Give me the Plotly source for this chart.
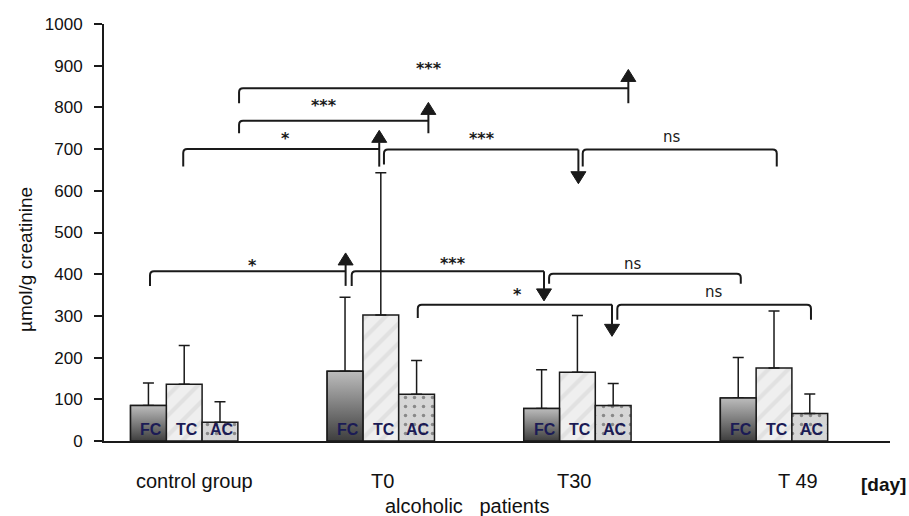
import plotly.graph_objects as go

# ---------------- data ----------------
groups = ["control group", "T0", "T30", "T 49"]
fc_mean = [85, 167, 78, 103]
fc_err = [54, 178, 93, 97]
tc_mean = [136, 302, 165, 175]
tc_err = [93, 341, 136, 137]
ac_mean = [45, 112, 85, 66]
ac_err = [49, 81, 53, 47]
bar_names = ["FC", "TC", "AC"]

# significance brackets: (x_left, x_right, level, drop, right_end, head_y, label, label_x, label_y)
brackets = [
    (-0.174, 0.821, 407, 372, "up", 451, "*", 0.345, 430),
    (0.852, 1.830, 407, 372, "down", 336, "***", 1.367, 435),
    (1.856, 2.831, 401, 377, "plain", None, "ns", 2.283, 424),
    (1.188, 2.176, 327, 295, "down", 251, "*", 1.693, 361),
    (2.203, 3.188, 327, 291, "plain", None, "ns", 2.695, 357),
    (-0.005, 0.992, 700, 658, "up", 745, "*", 0.513, 735),
    (1.016, 2.005, 699, 663, "down", 617, "***", 1.516, 736),
    (2.027, 3.014, 699, 658, "plain", None, "ns", 2.48, 730),
    (0.279, 1.242, 768, 738, "up", 812, "***", 0.711, 813),
    (0.279, 2.259, 846, 810, "up", 891, "***", 1.245, 903),
]

# category label positions (offset from group index)
cat_label_x = [0.05, 1.011, 1.983, 3.122]

# ---------------- geometry / style ----------------
xs = list(range(len(groups)))
group_width = 0.546
bw = group_width / 3
X_RANGE = [-0.408, 3.59]
Y_RANGE = [0, 1000]
PX_PER_X = 786 / (X_RANGE[1] - X_RANGE[0])
PX_PER_Y = 417 / (Y_RANGE[1] - Y_RANGE[0])

INK = "#1a1a1a"
LABEL_COL = "#1b1b55"
FONT = "Liberation Sans, Arial, sans-serif"

fig = go.Figure()

err_style = dict(type="data", symmetric=False, color=INK, thickness=1.5, width=5.5)
outline = dict(color=INK, width=1.5)

fig.add_trace(go.Bar(
    x=xs, y=fc_mean, name="FC",
    marker=dict(color="#8a8a8a", line=outline),
    error_y=dict(array=fc_err, arrayminus=[0] * 4, **err_style),
))
fig.add_trace(go.Bar(
    x=xs, y=tc_mean, name="TC",
    marker=dict(color="#ececec", line=outline,
                pattern=dict(shape="/", fgcolor="#d4d4d4", bgcolor="#efefef",
                             size=14, solidity=0.3)),
    error_y=dict(array=tc_err, arrayminus=[0] * 4, **err_style),
))
fig.add_trace(go.Bar(
    x=xs, y=ac_mean, name="AC",
    marker=dict(color="#d6d6d6", line=outline,
                pattern=dict(shape=".", fgcolor="#3a3a3a", bgcolor="#d6d6d6",
                             size=9, solidity=0.12)),
    error_y=dict(array=ac_err, arrayminus=[0] * 4, **err_style),
))

# gradient overlay for FC bars (dark bottom -> light top)
for i, v in zip(xs, fc_mean):
    x0 = i - 1.5 * bw
    x1 = i - 0.5 * bw
    fig.add_trace(go.Scatter(
        x=[x0, x1, x1, x0, x0], y=[0, 0, v, v, 0],
        mode="lines", fill="toself",
        line=dict(color=INK, width=1.5),
        fillgradient=dict(type="vertical", start=0, stop=v,
                          colorscale=[[0, "#3e3e3e"], [1, "#bcbcbc"]]),
        hoverinfo="skip", showlegend=False,
    ))

# bar labels inside bars
annotations = []
for gi in xs:
    for bi, name in enumerate(bar_names):
        right_edge = gi + (bi - 1) * bw + bw / 2
        annotations.append(dict(
            x=right_edge, y=0, xref="x", yref="y", text=name, showarrow=False,
            xanchor="right", yanchor="bottom", xshift=-2, yshift=1,
            font=dict(family=FONT, size=16, color=LABEL_COL, weight="bold"),
        ))

# brackets
shapes = []
rx = 4 / PX_PER_X
ry = 4 / PX_PER_Y
hw = 7.5 / PX_PER_X
hh = 12 / PX_PER_Y
line_style = dict(color=INK, width=2)
for (xl, xr, lev, drop, kind, head, lab, lx, ly) in brackets:
    path = f"M {xl},{drop} L {xl},{lev - ry} Q {xl},{lev} {xl + rx},{lev} "
    if kind == "plain":
        path += f"L {xr - rx},{lev} Q {xr},{lev} {xr},{lev - ry} L {xr},{drop}"
    else:
        path += f"L {xr},{lev}"
    shapes.append(dict(type="path", path=path, xref="x", yref="y", line=line_style))
    if kind == "up":
        shapes.append(dict(type="line", x0=xr, x1=xr, y0=drop, y1=head - hh,
                           xref="x", yref="y", line=line_style))
        shapes.append(dict(type="path", xref="x", yref="y",
                           path=f"M {xr - hw},{head - hh} L {xr + hw},{head - hh} L {xr},{head} Z",
                           fillcolor=INK, line=dict(color=INK, width=1)))
    elif kind == "down":
        shapes.append(dict(type="line", x0=xr, x1=xr, y0=lev, y1=head + hh,
                           xref="x", yref="y", line=line_style))
        shapes.append(dict(type="path", xref="x", yref="y",
                           path=f"M {xr - hw},{head + hh} L {xr + hw},{head + hh} L {xr},{head} Z",
                           fillcolor=INK, line=dict(color=INK, width=1)))
    if lab == "ns":
        annotations.append(dict(x=lx, y=ly, xref="x", yref="y", text=lab, showarrow=False,
                                xanchor="center", yanchor="middle",
                                font=dict(family="DejaVu Sans", size=15, color=INK)))
    else:
        annotations.append(dict(x=lx, y=ly, xref="x", yref="y", text=lab, showarrow=False,
                                xanchor="center", yanchor="middle", yshift=-4,
                                font=dict(family="DejaVu Sans", size=16, color=INK, weight="bold")))

# category labels
for cx, name in zip(cat_label_x, groups):
    annotations.append(dict(x=cx, y=-0.097, xref="x", yref="paper", text=name,
                            showarrow=False, xanchor="center", yanchor="middle",
                            font=dict(family=FONT, size=20, color="#111")))
annotations.append(dict(x=(467 - 104) / 786, y=-0.157, xref="paper", yref="paper",
                        text="alcoholic\u00a0\u00a0\u00a0patients", showarrow=False,
                        xanchor="center", yanchor="middle",
                        font=dict(family=FONT, size=20, color="#111")))
annotations.append(dict(x=(883 - 104) / 786, y=-0.105, xref="paper", yref="paper",
                        text="[day]", showarrow=False, xanchor="center", yanchor="middle",
                        font=dict(family=FONT, size=19, color="#111", weight="bold")))
annotations.append(dict(x=(25 - 104) / 786, y=0.434, xref="paper", yref="paper",
                        text="µmol/g creatinine", showarrow=False, textangle=-90,
                        xanchor="center", yanchor="middle",
                        font=dict(family=FONT, size=19, color="#111")))

fig.update_layout(
    width=909, height=516,
    margin=dict(l=104, r=19, t=24, b=75),
    paper_bgcolor="white", plot_bgcolor="white",
    barmode="group", bargap=1 - group_width, bargroupgap=0,
    showlegend=False,
    shapes=shapes, annotations=annotations,
    xaxis=dict(range=X_RANGE, showline=True, linecolor=INK, linewidth=2,
               showticklabels=False, ticks="", showgrid=False, zeroline=False,
               fixedrange=True),
    yaxis=dict(range=Y_RANGE, dtick=100, showline=True, linecolor=INK, linewidth=2,
               ticks="outside", ticklen=8, tickwidth=1.5, tickcolor=INK,
               ticklabelstandoff=8,
               tickfont=dict(family=FONT, size=17, color="#111"),
               showgrid=False, zeroline=False, fixedrange=True),
)

fig.write_html("out.html", config={"displayModeBar": False},
               post_script="document.body.style.margin='0px';")
